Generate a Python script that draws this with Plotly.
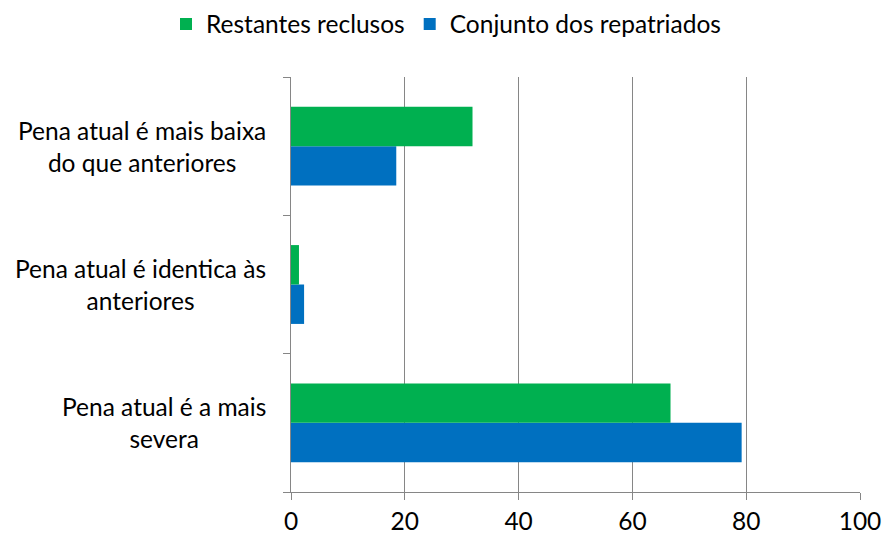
import plotly.graph_objects as go

categories = ["Pena atual é a mais<br>severa",
              "Pena atual é identica às<br>anteriores",
              "Pena atual é mais baixa<br>do que anteriores"]
restantes = [66.7, 1.4, 31.9]
conjunto = [79.2, 2.3, 18.5]
x_ticks = [0, 20, 40, 60, 80, 100]

FONT = "Lato, 'Open Sans', sans-serif"
FS = 24.5
GRID = "#868686"

fig = go.Figure()
fig.add_trace(go.Bar(y=categories, x=conjunto, orientation="h",
                     name="Conjunto dos repatriados", marker_color="#0070C0",
                     marker_line_width=0))
fig.add_trace(go.Bar(y=categories, x=restantes, orientation="h",
                     name="Restantes reclusos", marker_color="#00B050",
                     marker_line_width=0))

for c in categories:
    fig.add_annotation(x=-0.04, xref="paper", y=c, yref="y", text=c,
                       showarrow=False, xanchor="right", yanchor="middle",
                       align="center", font=dict(family=FONT, size=FS, color="#000"))

fig.update_layout(
    width=882, height=539,
    margin=dict(l=291, r=22, t=77, b=47, autoexpand=False),
    paper_bgcolor="white", plot_bgcolor="white",
    barmode="group", bargap=0.43, bargroupgap=0,
    font=dict(family=FONT, size=FS, color="#000"),
    showlegend=True,
    legend=dict(orientation="h", x=166/882, xref="container", xanchor="left",
                y=1 - 24/539, yref="container", yanchor="middle",
                traceorder="reversed", font=dict(family=FONT, size=FS),
                itemwidth=30),
    xaxis=dict(range=[0, 100], tickvals=x_ticks, ticktext=[str(v) for v in x_ticks],
               showgrid=True, gridcolor=GRID, gridwidth=1.3,
               showline=True, linecolor=GRID, linewidth=1.3,
               ticks="outside", ticklen=7, tickcolor=GRID, tickwidth=1.3,
               tickfont=dict(family=FONT, size=FS), zeroline=False, automargin=False),
    yaxis=dict(type="category", categoryorder="array", categoryarray=categories,
               showticklabels=False, showgrid=False,
               showline=True, linecolor=GRID, linewidth=1.3,
               ticks="outside", ticklen=7, tickcolor=GRID, tickwidth=1.3,
               tickson="boundaries", automargin=False),
)

fig.write_html("out.html", config={"displayModeBar": False},
               post_script="document.body.style.margin='0';document.body.style.padding='0';")
